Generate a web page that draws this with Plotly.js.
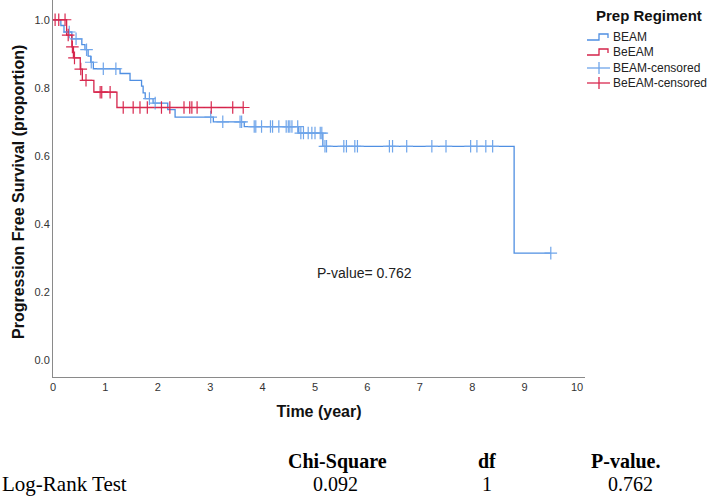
<!DOCTYPE html>
<html>
<head>
<meta charset="utf-8">
<script src="https://cdn.plot.ly/plotly-3.0.1.min.js"></script>
<style>html,body{margin:0;padding:0;background:#fff;}#chart{width:708px;height:496px;}</style>
</head>
<body>
<div id="chart"></div>
<script>
// BEAM Kaplan-Meier step data (time in years, survival proportion)
const beamTimes = [0, 0.15, 0.21, 0.36, 0.55, 0.61, 0.67, 0.72, 0.77, 1.28, 1.47, 1.69, 1.72, 1.76, 1.91, 2.19, 2.33, 3.06, 3.65, 4.69, 5.15, 8.80];
const beamSurv  = [1.0, 0.983, 0.964, 0.944, 0.927, 0.912, 0.893, 0.875, 0.856, 0.842, 0.822, 0.805, 0.785, 0.768, 0.755, 0.736, 0.714, 0.700, 0.686, 0.667, 0.628, 0.314];
const beamCensor = [0.31, 0.44, 0.64, 0.73, 0.96, 1.20, 1.84, 1.95, 3.01, 3.24, 3.57, 3.60, 3.84, 3.87, 3.98, 4.15, 4.19, 4.31, 4.45, 4.49, 4.52, 4.56, 4.67, 4.73, 4.78, 4.87, 4.94, 5.00, 5.10, 5.13, 5.19, 5.22, 5.55, 5.60, 5.76, 5.81, 6.42, 6.48, 6.75, 7.23, 7.50, 7.97, 8.09, 8.26, 8.39, 9.50];

// BeEAM Kaplan-Meier step data
const beeamTimes = [0, 0.26, 0.36, 0.39, 0.52, 0.56, 0.78, 1.22];
const beeamSurv  = [1.0, 0.955, 0.920, 0.888, 0.855, 0.822, 0.787, 0.742];
const beeamCensor = [0.04, 0.11, 0.23, 0.29, 0.37, 0.41, 0.53, 0.63, 0.90, 0.93, 1.09, 1.34, 1.53, 1.66, 1.80, 2.07, 2.23, 2.50, 2.61, 2.65, 2.75, 3.02, 3.43, 3.63];

const xTicks = [0,1,2,3,4,5,6,7,8,9,10];
const yTicks = [0.0,0.2,0.4,0.6,0.8,1.0];
const groupNames = ['BEAM', 'BeEAM'];
const legendTitle = 'Prep Regiment';
const pValueText = 'P-value= 0.762';
const tableHeaders = ['Chi-Square', 'df', 'P-value.'];
const tableRowLabel = 'Log-Rank Test';
const tableValues = ['0.092', '1', '0.762'];

const BLUE = '#4f8fe2';
const RED = '#d4234a';
const BLUE_C = '#6fa5ea';
const RED_C = '#d8294f';
const COLORS = [BLUE, RED, BLUE_C, RED_C];

function survAt(times, surv, t) {
  let s = surv[0];
  for (let i = 0; i < times.length; i++) { if (times[i] <= t) s = surv[i]; }
  return s;
}
function stepTrace(times, surv, censor, name, color) {
  const last = Math.max(censor[censor.length - 1], times[times.length - 1]);
  return {
    x: times.concat([last]), y: surv.concat([surv[surv.length - 1]]),
    mode: 'lines', line: {shape: 'hv', color: color, width: 1.3},
    name: name, hoverinfo: 'skip', showlegend: false
  };
}
function censorTrace(times, surv, censor, name, color) {
  return {
    x: censor, y: censor.map(t => survAt(times, surv, t)),
    mode: 'markers', name: name + '-censored', showlegend: false,
    marker: {symbol: 'cross-thin', size: 9, line: {color: color, width: 1.2}, color: color},
    hoverinfo: 'skip'
  };
}

const traces = [
  stepTrace(beamTimes, beamSurv, beamCensor, groupNames[0], BLUE),
  stepTrace(beeamTimes, beeamSurv, beeamCensor, groupNames[1], RED),
  censorTrace(beamTimes, beamSurv, beamCensor, groupNames[0], BLUE_C),
  censorTrace(beeamTimes, beeamSurv, beeamCensor, groupNames[1], RED_C)
];

const W = 708, H = 496, L = 53, R = 123, T = 0, B = 119;
const pw = W - L - R, ph = H - T - B;
const PXU = 52.4; // pixels per year
function px(xp) { return (xp - L) / pw; }
function py(yp) { return (H - B - yp) / ph; }

const serif = 'Liberation Serif, Times New Roman, serif';
const sans = 'Liberation Sans, Arial, sans-serif';
const annotations = [
  {x: 5.94, y: 0.257, xref: 'x', yref: 'y', xanchor: 'center', yanchor: 'middle', text: pValueText, showarrow: false,
   font: {family: sans, size: 14, color: '#222'}},
  {x: px(18), y: py(192), xref: 'paper', yref: 'paper', xanchor: 'center', yanchor: 'middle', textangle: -90,
   text: '<b>Progression Free Survival (proportion)</b>', showarrow: false, font: {family: sans, size: 16, color: '#111'}}
];
function tableText(xc, yc, txt, bold, anchor, size) {
  annotations.push({x: px(xc), y: py(yc), xref: 'paper', yref: 'paper', xanchor: anchor || 'center', yanchor: 'middle',
    text: bold ? '<b>' + txt + '</b>' : txt, showarrow: false, font: {family: serif, size: size || 20, color: '#000'}});
}
tableText(337, 461, tableHeaders[0], true);
tableText(487, 461, tableHeaders[1], true);
tableText(625, 461, tableHeaders[2], true);
tableText(0, 484, tableRowLabel, false, 'left', 21);
tableText(335, 484, tableValues[0], false);
tableText(487, 484, tableValues[1], false);
tableText(630, 484, tableValues[2], false);

// custom legend (step symbols + censor crosses)
const shapes = [];
annotations.push({x: px(649), y: py(15), xref: 'paper', yref: 'paper', xanchor: 'center', yanchor: 'middle',
  text: '<b>' + legendTitle + '</b>', showarrow: false, font: {family: sans, size: 15, color: '#111'}});
const legendNames = [groupNames[0], groupNames[1], groupNames[0] + '-censored', groupNames[1] + '-censored'];
const legendRows = [37, 52, 68, 83];
legendNames.forEach((nm, i) => {
  const yc = legendRows[i];
  const col = COLORS[i];
  if (i < 2) {
    const path = 'M' + px(587) + ',' + py(yc + 3) + ' L' + px(599) + ',' + py(yc + 3) + ' L' + px(599) + ',' + py(yc - 3) +
      ' L' + px(608) + ',' + py(yc - 3) + ' L' + px(608) + ',' + py(yc + 1);
    shapes.push({type: 'path', xref: 'paper', yref: 'paper', path: path, line: {color: col, width: 1.3}});
  } else {
    shapes.push({type: 'line', xref: 'paper', yref: 'paper', x0: px(587), x1: px(610), y0: py(yc), y1: py(yc), line: {color: col, width: 1.3}});
    shapes.push({type: 'line', xref: 'paper', yref: 'paper', x0: px(599), x1: px(599), y0: py(yc - 6), y1: py(yc + 6), line: {color: col, width: 1.3}});
  }
  annotations.push({x: px(611), y: py(yc), xref: 'paper', yref: 'paper', xanchor: 'left', yanchor: 'middle',
    text: nm, showarrow: false, font: {family: sans, size: 12, color: '#222'}});
});

const layout = {
  width: W, height: H,
  margin: {l: L, r: R, t: T, b: B, pad: 0},
  paper_bgcolor: '#fff', plot_bgcolor: '#fff',
  font: {family: sans, size: 11, color: '#333'},
  xaxis: {
    range: [0, pw / PXU], tickvals: xTicks, ticktext: xTicks.map(String),
    showgrid: false, zeroline: false, showline: true, linecolor: '#8a8a8a', linewidth: 1,
    ticks: '', tickfont: {size: 11, color: '#333'},
    title: {text: '<b>Time (year)</b>', font: {size: 16, color: '#111'}, standoff: 13}
  },
  yaxis: {
    range: [-0.05, 1.058], tickvals: yTicks, ticktext: yTicks.map(v => v.toFixed(1)),
    showgrid: false, zeroline: false, showline: true, linecolor: '#8a8a8a', linewidth: 1,
    ticks: '', tickfont: {size: 11, color: '#333'}
  },
  shapes: shapes,
  annotations: annotations,
  showlegend: false
};

Plotly.newPlot('chart', traces, layout, {staticPlot: true, displayModeBar: false});
</script>
</body>
</html>
